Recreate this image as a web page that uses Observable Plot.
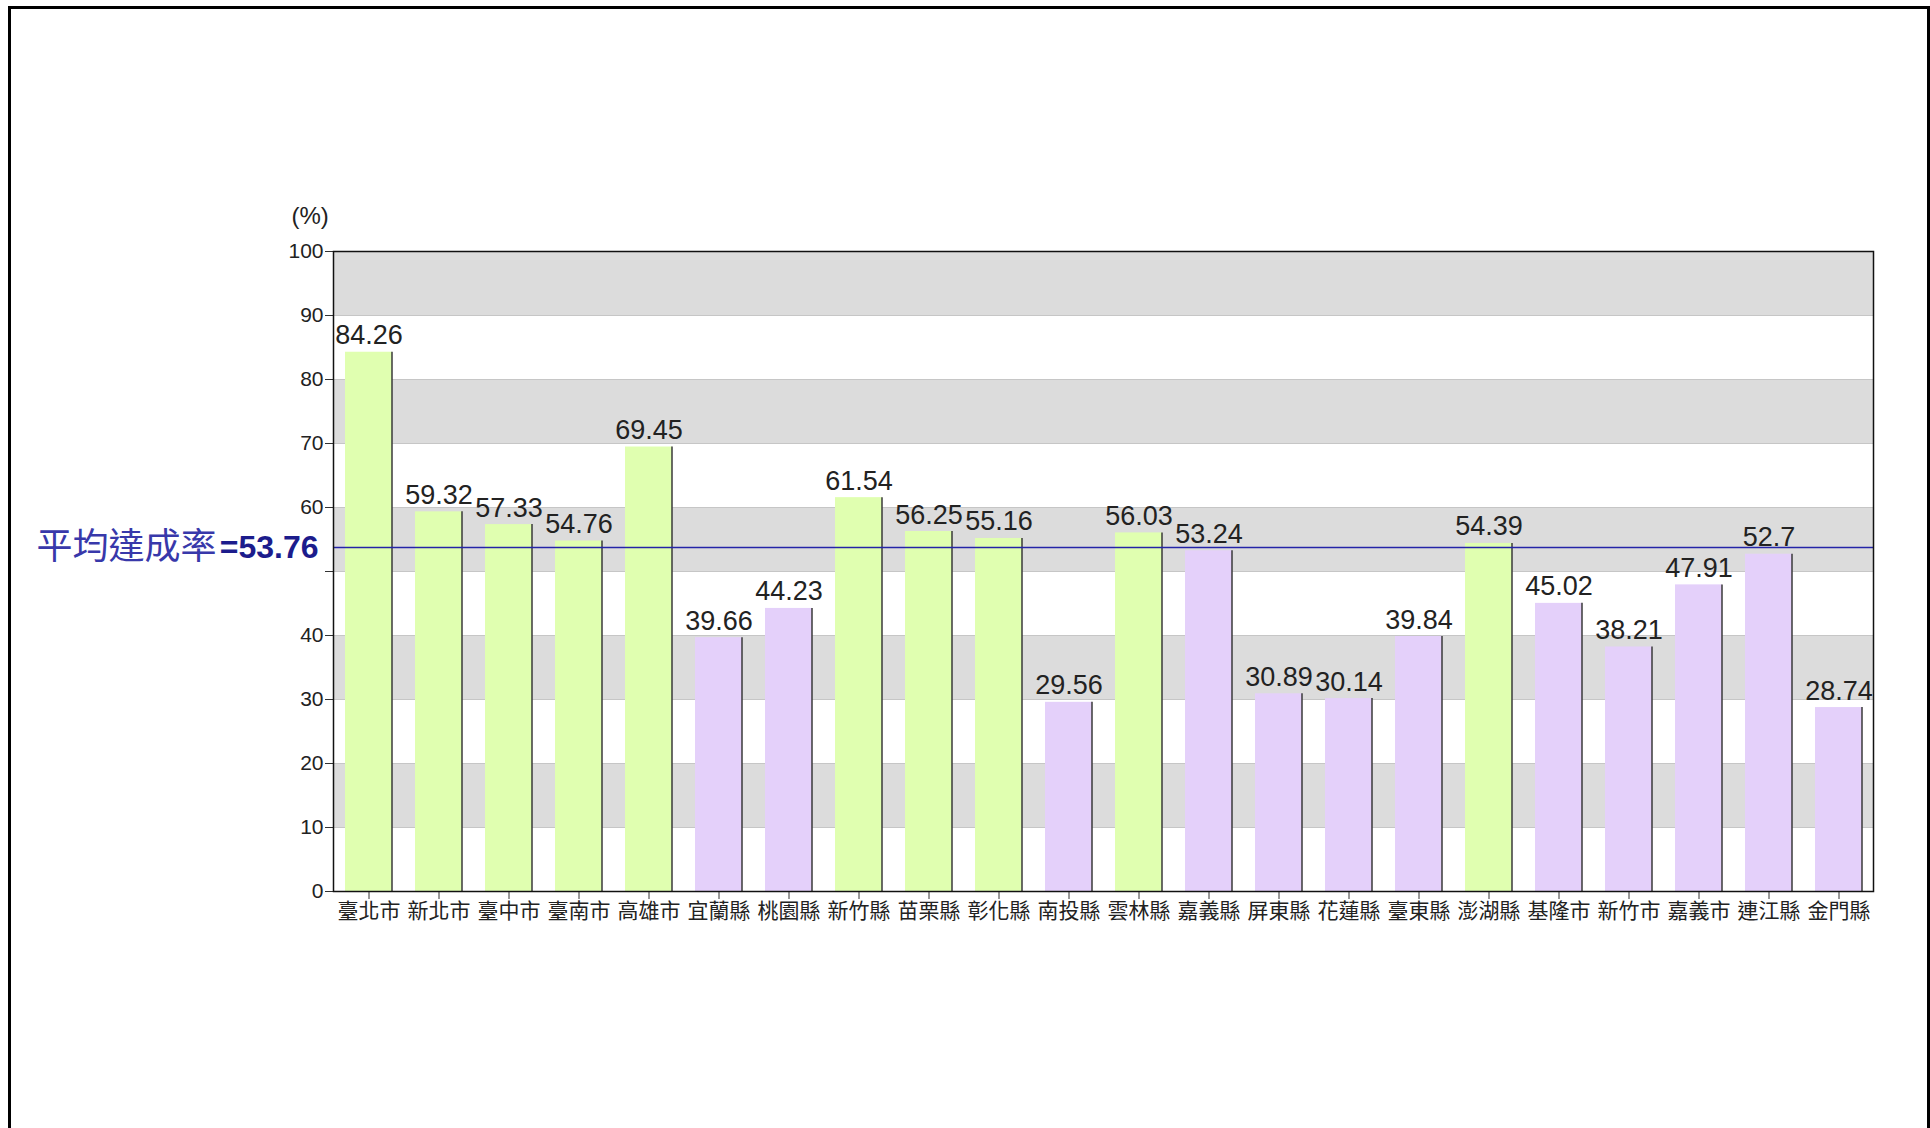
<!DOCTYPE html>
<html>
<head>
<meta charset="utf-8">
<script src="https://cdn.jsdelivr.net/npm/d3@7"></script>
<script src="https://cdn.jsdelivr.net/npm/@observablehq/plot@0.6"></script>
<style>
html, body { margin: 0; padding: 0; background: #fff; overflow: hidden; width: 1930px; height: 1128px; }
#frame { position: absolute; left: 8px; top: 6px; width: 1916px; height: 1200px; border: 3px solid #000; border-bottom: none; }
#chart { position: absolute; left: 0; top: 0; }
</style>
</head>
<body>
<div id="frame"></div>
<div id="chart"></div>
<script>
const categories = ["臺北市","新北市","臺中市","臺南市","高雄市","宜蘭縣","桃園縣","新竹縣","苗栗縣","彰化縣","南投縣","雲林縣","嘉義縣","屏東縣","花蓮縣","臺東縣","澎湖縣","基隆市","新竹市","嘉義市","連江縣","金門縣"];
const values = [84.26,59.32,57.33,54.76,69.45,39.66,44.23,61.54,56.25,55.16,29.56,56.03,53.24,30.89,30.14,39.84,54.39,45.02,38.21,47.91,52.7,28.74];
const average = 53.76;
const yTicks = [0,10,20,30,40,50,60,70,80,90,100];
const hiddenTick = 50;
const yLabel = "(%)";
const averageLabel = "平均達成率";
const averageValueLabel = "=53.76";
const aboveColor = "#e0ffb0";
const belowColor = "#e4d0fa";

const data = categories.map((c, i) => ({name: c, value: values[i], fill: values[i] >= average ? aboveColor : belowColor}));
const stripes = yTicks.slice(0, -1)
  .map((t, i) => ({y1: t, y2: yTicks[i + 1], shade: i % 2 === 1}))
  .filter(d => d.shade);

const chart = Plot.plot({
  width: 1930,
  height: 1128,
  marginLeft: 333,
  marginRight: 57,
  marginTop: 251,
  marginBottom: 237,
  style: {fontFamily: "'Liberation Sans', Arial, sans-serif", background: "transparent", color: "#222"},
  x: {domain: categories, paddingInner: 0.33, paddingOuter: 0.165, label: null},
  y: {domain: [0, 100], label: null},
  color: {type: "identity"},
  marks: [
    Plot.rect(stripes, {y1: "y1", y2: "y2", fill: "#dcdcdc"}),
    Plot.ruleY(yTicks, {stroke: "#c6c6c6", strokeWidth: 1}),
    Plot.barY(data, {x: "name", y: "value", fill: "fill"}),
    Plot.ruleX(data, {x: "name", y1: 0, y2: "value", dx: 23, stroke: "#3a3a3a", strokeWidth: 1.5}),
    Plot.text(data, {x: "name", y: "value", text: d => String(d.value), lineAnchor: "bottom", dy: -8, fontSize: 27, fill: "#222"}),
    Plot.ruleY([average], {stroke: "#2424a8", strokeWidth: 1.5}),
    Plot.text([average], {y: Plot.identity, frameAnchor: "left", text: () => averageValueLabel, textAnchor: "end", dx: -15, fontSize: 32, fontWeight: "bold", fill: "#1c1c8c"}),
    Plot.text([average], {y: Plot.identity, frameAnchor: "left", text: () => averageLabel, textAnchor: "end", dx: -117, fontSize: 36, fill: "#3838aa", fontFamily: "'Noto Sans CJK TC', sans-serif"}),
    Plot.text([yLabel], {frameAnchor: "top-left", text: Plot.identity, dx: -42, dy: -35, textAnchor: "start", lineAnchor: "middle", fontSize: 24, fill: "#222"}),
    Plot.axisY({ticks: yTicks, tickSize: 8, tickPadding: 2, fontSize: 21, tickFormat: d => d === hiddenTick ? "" : d, stroke: "#333"}),
    Plot.axisX({tickSize: 8, tickPadding: 4, fontSize: 21, fontFamily: "'Noto Sans CJK TC', sans-serif", stroke: "#333"}),
    Plot.frame({stroke: "#111", strokeWidth: 1.5})
  ]
});
document.getElementById("chart").appendChild(chart);
</script>
</body>
</html>
